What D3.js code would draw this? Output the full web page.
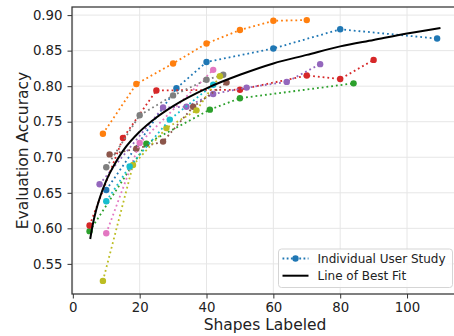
<!DOCTYPE html>
<html>
<head>
<meta charset="utf-8">
<script src="https://cdn.jsdelivr.net/npm/d3@7"></script>
<style>
  body { margin: 0; background: #fff; }
  svg { font-family: "DejaVu Sans", sans-serif; display: block; }
</style>
</head>
<body>
<div id="chart"></div>
<script>
// one entry per user study, colours follow the usual tab10 order
const seriesColors = ['#1f77b4', '#ff7f0e', '#2ca02c', '#d62728', '#9467bd',
  '#8c564b', '#e377c2', '#7f7f7f', '#bcbd22', '#17becf'];

const blueX = [10, 31, 40, 60, 80, 109];
const blueY = [0.654, 0.797, 0.834, 0.853, 0.880, 0.867];
const orangeX = [9, 19, 30, 40, 50, 60, 70];
const orangeY = [0.733, 0.803, 0.832, 0.860, 0.879, 0.892, 0.893];
const greenX = [5, 22, 41, 50, 84];
const greenY = [0.596, 0.719, 0.767, 0.783, 0.804];
const redX = [5, 15, 25, 50, 70, 80, 90];
const redY = [0.604, 0.727, 0.794, 0.795, 0.815, 0.810, 0.837];
const purpleX = [8, 27, 34, 42, 52, 64, 74];
const purpleY = [0.662, 0.770, 0.771, 0.789, 0.798, 0.806, 0.831];
const brownX = [11, 19, 27, 36, 46];
const brownY = [0.704, 0.712, 0.722, 0.771, 0.805];
const pinkX = [10, 20, 42];
const pinkY = [0.593, 0.720, 0.823];
const grayX = [10, 20, 30, 40, 45];
const grayY = [0.686, 0.759, 0.787, 0.809, 0.816];
const oliveX = [9, 18, 28, 37, 44];
const oliveY = [0.526, 0.689, 0.741, 0.766, 0.814];
const cyanX = [10, 17, 29, 42];
const cyanY = [0.638, 0.687, 0.753, 0.802];

// best fit curve
const fitX = [5.2, 6, 7, 8, 10, 12, 15, 20, 25, 30, 40, 50, 60, 70, 80, 90, 100, 110];
const fitY = [0.585, 0.606, 0.626, 0.642, 0.667, 0.686, 0.709, 0.736, 0.756, 0.772,
  0.797, 0.816, 0.832, 0.844, 0.856, 0.865, 0.874, 0.882];

const xTicks = [0, 20, 40, 60, 80, 100];
const yTicks = [0.55, 0.60, 0.65, 0.70, 0.75, 0.80, 0.85, 0.90];
const legendLabels = ['Individual User Study', 'Line of Best Fit'];

const allX = [blueX, orangeX, greenX, redX, purpleX, brownX, pinkX, grayX, oliveX, cyanX];
const allY = [blueY, orangeY, greenY, redY, purpleY, brownY, pinkY, grayY, oliveY, cyanY];

const width = 454, height = 336;
const margin = { top: 7, right: -4, bottom: 42, left: 72 };

const svg = d3.select('#chart').append('svg')
  .attr('width', width)
  .attr('height', height);

const x = d3.scaleLinear().domain([-0.25, 115.25]).range([margin.left, width - margin.right]);
const y = d3.scaleLinear().domain([0.5076, 0.9114]).range([height - margin.bottom, margin.top]);

// grid
svg.append('g')
  .selectAll('line.gx')
  .data(xTicks)
  .join('line')
  .attr('x1', d => x(d)).attr('x2', d => x(d))
  .attr('y1', y.range()[0]).attr('y2', y.range()[1])
  .attr('stroke', '#e6e6e6').attr('stroke-width', 1);

svg.append('g')
  .selectAll('line.gy')
  .data(yTicks)
  .join('line')
  .attr('x1', x.range()[0]).attr('x2', x.range()[1])
  .attr('y1', d => y(d)).attr('y2', d => y(d))
  .attr('stroke', '#e6e6e6').attr('stroke-width', 1);

// user studies
const plot = svg.append('g');
allX.forEach((xs, i) => {
  const pts = xs.map((v, j) => [v, allY[i][j]]);
  const line = d3.line().x(d => x(d[0])).y(d => y(d[1]));
  plot.append('path')
    .datum(pts)
    .attr('fill', 'none')
    .attr('stroke', seriesColors[i])
    .attr('stroke-width', 1.8)
    .attr('stroke-dasharray', '1.8,2.97')
    .attr('d', line);
  plot.selectAll(null)
    .data(pts)
    .join('circle')
    .attr('cx', d => x(d[0]))
    .attr('cy', d => y(d[1]))
    .attr('r', 3.2)
    .attr('fill', seriesColors[i]);
});

const fitLine = d3.line()
  .x((d, i) => x(fitX[i]))
  .y(d => y(d))
  .curve(d3.curveMonotoneX);

plot.append('path')
  .datum(fitY)
  .attr('fill', 'none')
  .attr('stroke', '#000')
  .attr('stroke-width', 2)
  .attr('d', fitLine);

// axes
const xAxis = svg.append('g')
  .attr('transform', `translate(0, ${y.range()[0]})`)
  .call(d3.axisBottom(x).tickValues(xTicks).tickSize(4.5).tickPadding(4).tickFormat(d3.format('d')));
const yAxis = svg.append('g')
  .attr('transform', `translate(${x.range()[0]}, 0)`)
  .call(d3.axisLeft(y).tickValues(yTicks).tickSize(4.5).tickPadding(5).tickFormat(d3.format('.2f')));

[xAxis, yAxis].forEach(a => {
  a.select('.domain').remove();
  a.selectAll('line').attr('stroke', '#333').attr('stroke-width', 1);
  a.selectAll('text').attr('fill', '#222').style('font-size', '13.3px').style('font-family', '"DejaVu Sans", sans-serif');
});

// frame (right edge falls outside the picture)
svg.append('rect')
  .attr('x', x.range()[0]).attr('y', y.range()[1])
  .attr('width', x.range()[1] - x.range()[0])
  .attr('height', y.range()[0] - y.range()[1])
  .attr('fill', 'none')
  .attr('stroke', '#333')
  .attr('stroke-width', 1.25);

svg.append('text')
  .attr('x', (x.range()[0] + x.range()[1]) / 2)
  .attr('y', 330)
  .attr('text-anchor', 'middle')
  .attr('fill', '#222')
  .style('font-size', '15.5px')
  .text('Shapes Labeled');

svg.append('text')
  .attr('transform', `translate(28, ${(y.range()[0] + y.range()[1]) / 2}) rotate(-90)`)
  .attr('text-anchor', 'middle')
  .attr('fill', '#222')
  .style('font-size', '15.5px')
  .text('Evaluation Accuracy');

// legend
const lg = svg.append('g').attr('transform', 'translate(278.5, 249)');
lg.append('rect')
  .attr('width', 174).attr('height', 38.5)
  .attr('rx', 3)
  .attr('fill', '#fff').attr('fill-opacity', 0.8)
  .attr('stroke', '#d5d5d5');

lg.append('line')
  .attr('x1', 4).attr('x2', 30).attr('y1', 9.5).attr('y2', 9.5)
  .attr('stroke', seriesColors[0]).attr('stroke-width', 1.8)
  .attr('stroke-dasharray', '1.8,2.4');
lg.append('circle').attr('cx', 17).attr('cy', 9.5).attr('r', 3.2).attr('fill', seriesColors[0]);
lg.append('line')
  .attr('x1', 4).attr('x2', 30).attr('y1', 26.7).attr('y2', 26.7)
  .attr('stroke', '#000').attr('stroke-width', 2);

lg.selectAll('text')
  .data(legendLabels)
  .join('text')
  .attr('x', 39)
  .attr('y', (d, i) => 13.8 + i * 17.2)
  .attr('fill', '#222')
  .style('font-size', '12px')
  .text(d => d);
</script>
</body>
</html>
